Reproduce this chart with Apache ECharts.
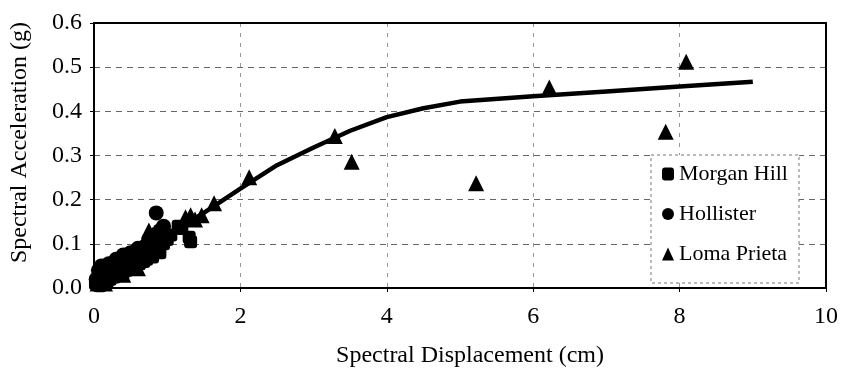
<!DOCTYPE html>
<html>
<head>
<meta charset="utf-8">
<script src="https://cdn.jsdelivr.net/npm/echarts@6/dist/echarts.min.js"></script>
<style>
  html, body { margin: 0; padding: 0; background: #fff; }
  #chart { width: 841px; height: 374px; }
</style>
</head>
<body>
<div id="chart"></div>
<script>
// capacity curve (cm, g)
const curve = [
  [0, 0], [0.5, 0.065], [1, 0.12], [1.5, 0.17], [2, 0.225], [2.5, 0.278],
  [3, 0.318], [3.5, 0.356], [4, 0.387], [4.5, 0.407], [5, 0.422],
  [6, 0.434], [7, 0.445], [8, 0.456], [9, 0.467],
];

const morganHill = [
  [0.02, 0.01], [0.05, 0.02], [0.08, 0.005], [0.1, 0.03], [0.12, 0.01],
  [0.15, 0.035], [0.18, 0.015], [0.2, 0.045], [0.22, 0.02], [0.25, 0.05],
  [0.28, 0.025], [0.3, 0.055], [0.33, 0.03], [0.36, 0.06], [0.4, 0.035],
  [0.42, 0.065], [0.45, 0.04], [0.48, 0.07], [0.5, 0.045], [0.55, 0.075],
  [0.58, 0.05], [0.6, 0.08], [0.62, 0.055], [0.65, 0.085], [0.68, 0.06],
  [0.7, 0.09], [0.72, 0.065], [0.75, 0.095], [0.8, 0.07], [0.85, 0.1],
  [0.9, 0.08], [0.95, 0.1], [1.0, 0.11], [1.05, 0.12],
  [1.15, 0.14], [1.2, 0.135], [1.3, 0.115], [1.32, 0.105],
];

const hollister = [
  [0.03, 0.02], [0.06, 0.04], [0.1, 0.05], [0.14, 0.02], [0.2, 0.055],
  [0.25, 0.025], [0.3, 0.065], [0.35, 0.04], [0.4, 0.075], [0.45, 0.045],
  [0.5, 0.08], [0.55, 0.055], [0.6, 0.09], [0.65, 0.065], [0.7, 0.095],
  [0.75, 0.11], [0.8, 0.1], [0.85, 0.17], [0.88, 0.12], [0.9, 0.13], [0.95, 0.14],
];

const lomaPrieta = [
  [0.05, 0.01], [0.1, 0.02], [0.15, 0.01], [0.2, 0.03], [0.3, 0.04],
  [0.4, 0.03], [0.5, 0.06], [0.6, 0.045], [0.7, 0.08], [0.75, 0.13],
  [0.8, 0.12], [1.25, 0.16], [1.32, 0.165], [1.38, 0.155], [1.47, 0.165],
  [1.64, 0.192], [2.12, 0.251], [3.29, 0.344], [3.52, 0.286], [5.22, 0.237],
  [6.22, 0.454], [7.81, 0.354], [8.09, 0.512],
];

const font = "'Liberation Serif', 'Times New Roman', serif";

const chart = echarts.init(document.getElementById("chart"), null, { renderer: "canvas" });

const frameAxis = {
  axisLine: { show: true, onZero: false, lineStyle: { color: "#000", width: 2 } },
  axisTick: { show: false },
  axisLabel: { show: false },
  splitLine: { show: false },
};

chart.setOption({
  animation: false,
  backgroundColor: "#fff",
  textStyle: { fontFamily: font, color: "#000" },
  grid: { left: 94, right: 14, top: 23, bottom: 86, containLabel: false },
  xAxis: [
    {
      type: "value",
      min: 0, max: 10, interval: 2,
      name: "Spectral Displacement (cm)",
      nameLocation: "middle",
      nameGap: 56,
      nameTextStyle: { fontFamily: font, fontSize: 24, color: "#000", padding: [0, 0, 0, 20] },
      axisLine: { show: true, onZero: false, lineStyle: { color: "#000", width: 2 } },
      axisTick: { show: true, inside: false, length: 4, lineStyle: { color: "#000" } },
      axisLabel: { fontFamily: font, fontSize: 24, color: "#000", margin: 17 },
      splitLine: { show: true, lineStyle: { color: "#999", width: 1, type: [4, 6] } },
    },
    Object.assign({ type: "value", position: "top", min: 0, max: 10 }, frameAxis),
  ],
  yAxis: [
    {
      type: "value",
      min: 0, max: 0.6, interval: 0.1,
      name: "Spectral Acceleration (g)",
      nameLocation: "middle",
      nameGap: 62,
      nameTextStyle: { fontFamily: font, fontSize: 24, color: "#000", padding: [0, 0, 0, 26] },
      axisLine: { show: true, onZero: false, lineStyle: { color: "#000", width: 2 } },
      axisTick: { show: true, inside: false, length: 4, lineStyle: { color: "#000" } },
      axisLabel: {
        fontFamily: font, fontSize: 24, color: "#000", margin: 12,
        formatter: (v) => v.toFixed(1),
      },
      splitLine: { show: true, lineStyle: { color: "#666", width: 1, type: [6, 5] } },
    },
    Object.assign({ type: "value", position: "right", min: 0, max: 0.6 }, frameAxis),
  ],
  graphic: [
    {
      type: "rect",
      z: 50,
      shape: { x: 651, y: 155, width: 148, height: 128 },
      style: { fill: "#fff", stroke: "#777", lineWidth: 1, lineDash: [3, 3] },
    },
  ],
  legend: {
    z: 60,
    orient: "vertical",
    left: 662,
    top: 162,
    padding: 0,
    itemGap: 16,
    itemWidth: 12,
    itemHeight: 13,
    textStyle: { fontFamily: font, fontSize: 22, color: "#000", lineHeight: 24 },
    data: ["Morgan Hill", "Hollister", "Loma Prieta"],
  },
  series: [
    {
      name: "Capacity",
      type: "line",
      data: curve,
      showSymbol: false,
      symbol: "none",
      lineStyle: { color: "#000", width: 4.5 },
      z: 3,
    },
    {
      name: "Morgan Hill",
      type: "scatter",
      data: morganHill,
      symbol: "roundRect",
      symbolSize: 13,
      itemStyle: { color: "#000", opacity: 1 },
      z: 4,
    },
    {
      name: "Hollister",
      type: "scatter",
      data: hollister,
      symbol: "circle",
      symbolSize: 15,
      itemStyle: { color: "#000", opacity: 1 },
      z: 4,
    },
    {
      name: "Loma Prieta",
      type: "scatter",
      data: lomaPrieta,
      symbol: "triangle",
      symbolSize: 16,
      itemStyle: { color: "#000", opacity: 1 },
      z: 4,
    },
  ],
});
</script>
</body>
</html>
